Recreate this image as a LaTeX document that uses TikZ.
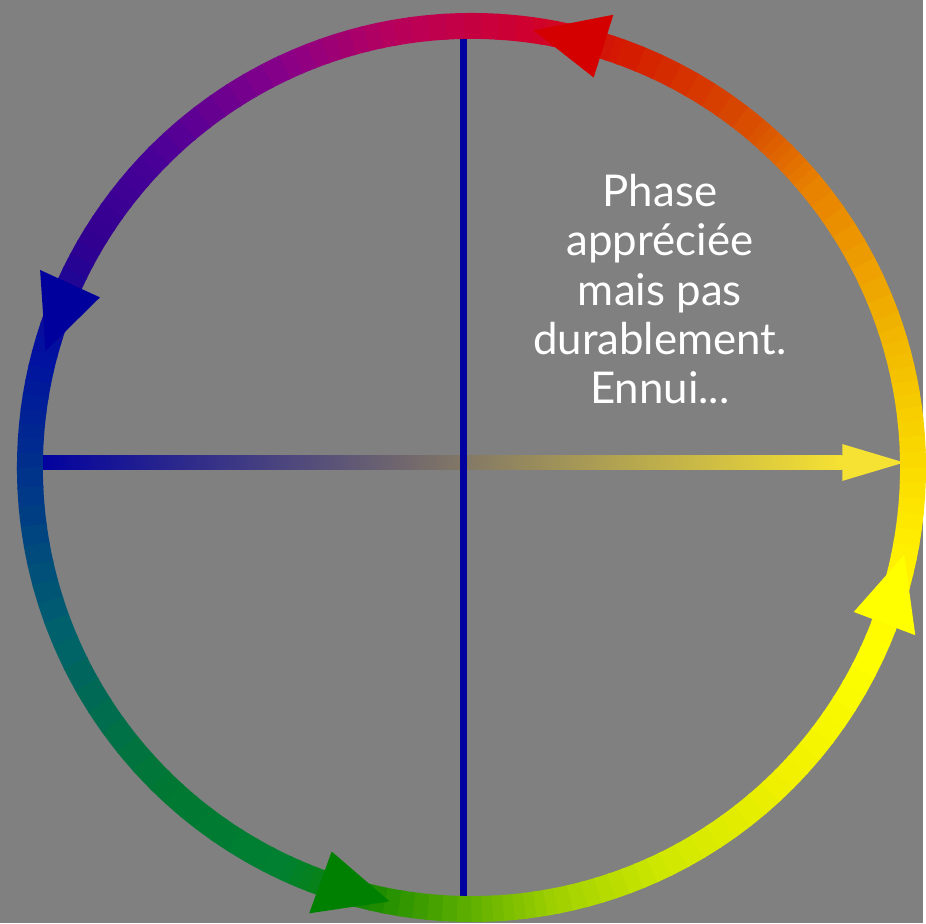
\documentclass[tikz,border=0pt]{standalone}
\usepackage{fontspec}
\setmainfont{Lato}
\usetikzlibrary{calc}
\definecolor{bg-gray}{HTML}{808080}
\definecolor{axis-blue}{HTML}{0000A0}
\definecolor{bar-blue}{HTML}{0000A0}
\definecolor{bar-yellow}{HTML}{F6E232}
\definecolor{tip-red}{HTML}{D40000}
\definecolor{tip-blue}{HTML}{00009C}
\definecolor{tip-green}{HTML}{008000}
\definecolor{tip-yellow}{HTML}{FFFF00}
% ring colour stops
\definecolor{r070}{HTML}{D41A00}
\definecolor{r082}{HTML}{D0002C}
\definecolor{r100}{HTML}{B8005C}
\definecolor{r115}{HTML}{880088}
\definecolor{r135}{HTML}{4A0098}
\definecolor{r150}{HTML}{300090}
\definecolor{r165}{HTML}{0010A0}
\definecolor{r180}{HTML}{00308C}
\definecolor{r200}{HTML}{005E70}
\definecolor{r225}{HTML}{007834}
\definecolor{r245}{HTML}{008030}
\definecolor{r255}{HTML}{108400}
\definecolor{r270}{HTML}{60B000}
\definecolor{r281}{HTML}{A0D000}
\definecolor{r296}{HTML}{D0E800}
\definecolor{r315}{HTML}{F0F000}
\definecolor{r335}{HTML}{FFFF00}
\definecolor{r350}{HTML}{FFEE00}
\definecolor{r366}{HTML}{F8D000}
\definecolor{r380}{HTML}{F0B000}
\definecolor{r400}{HTML}{E88000}
\definecolor{r410}{HTML}{D85000}
\definecolor{r430}{HTML}{D41A00}

\begin{document}
\begin{tikzpicture}[
    ringseg/.style={line width=0.26cm},
    axisline/.style={draw=axis-blue, line width=0.07cm},
    caption/.style={align=center, text=white, font=\fontsize{12.5}{14}\selectfont}]
    % Diagram: colour ring turning anticlockwise, with two axes.
    % Coordinates: (x, y) in cm, 1px = 0.01cm
    %   centre O at (4.73,4.57), ring radius 4.43cm, width 0.26cm
    %   vertical axis x=4.65 from y=0.25 to y=8.89
    %   horizontal arrow y=4.62 from x=0.35 to x=9.07 (head 0.62cm)
    \fill[bg-gray] (0,0) rectangle (9.26,9.26);
    \coordinate (O) at (4.73,4.57);
    \coordinate (N) at (4.65,8.89);
    \coordinate (S) at (4.65,0.25);
    \coordinate (W) at (0.35,4.62);
    \coordinate (barEnd) at (8.45,4.62);
    \coordinate (E) at (9.07,4.62);

    % horizontal arrow, blue to yellow
    \shade[left color=bar-blue, right color=bar-yellow]
      ($(W)+(0,-0.075)$) rectangle ($(barEnd)+(0,0.075)$);
    \fill[bar-yellow] ($(barEnd)+(0,0.185)$) -- (E) -- ($(barEnd)+(0,-0.185)$) -- cycle;

    % vertical axis
    \draw[axisline] (N) -- (S);

    % ring, colour blended piece by piece
    \foreach \a/\b/\ca/\cb in {70/82/r070/r082, 82/100/r082/r100, 100/115/r100/r115,
        115/135/r115/r135, 135/150/r135/r150, 150/165/r150/r165, 165/180/r165/r180,
        180/200/r180/r200, 200/225/r200/r225, 225/245/r225/r245, 245/255/r245/r255,
        255/270/r255/r270, 270/281/r270/r281, 281/296/r281/r296, 296/315/r296/r315,
        315/335/r315/r335, 335/350/r335/r350, 350/366/r350/r366, 366/380/r366/r380,
        380/400/r380/r400, 400/410/r400/r410, 410/430/r410/r430} {
      \foreach \k in {0,...,7} {
        \pgfmathsetmacro\s{\a+(\b-\a)*\k/8}
        \pgfmathsetmacro\e{\a+(\b-\a)*(\k+1)/8+0.3}
        \pgfmathtruncatemacro\p{100-\k*12.5-6}
        \draw[ringseg, draw=\ca!\p!\cb] ($(O)+(\s:4.43)$)
          arc[start angle=\s, end angle=\e, radius=4.43];
      }
    }

    % arrowheads on the ring
    \foreach \t/\c in {72.6/tip-red, 155.4/tip-blue, 250/tip-green, 339.3/tip-yellow}
      \fill[\c, shift={(O)}] (\t:4.76) -- (\t:4.10) -- ({\t+9.3}:4.43) -- cycle;

    \node[caption] (phase) at (6.62,6.36)
      {Phase\\appréciée\\mais pas\\durablement.\\Ennui...};
\end{tikzpicture}
\end{document}
